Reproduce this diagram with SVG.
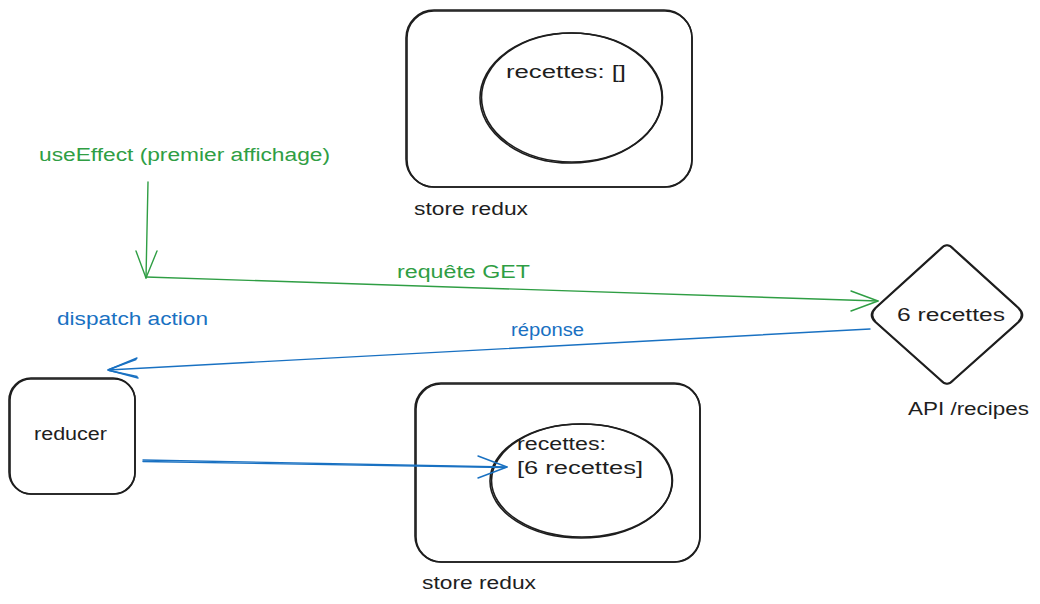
<svg xmlns="http://www.w3.org/2000/svg" width="1040" height="604" viewBox="0 0 1040 604">
<style>
.s{fill:none;stroke:#1e1e1e;stroke-width:1.6;stroke-linecap:round;stroke-linejoin:round}
.t{font-family:"Liberation Sans","DejaVu Sans",sans-serif;font-size:18px;fill:#1e1e1e}
.g{stroke:#2f9e44;fill:none;stroke-width:1.4;stroke-linecap:round;stroke-linejoin:round}
.b{stroke:#1971c2;fill:none;stroke-width:1.4;stroke-linecap:round;stroke-linejoin:round}
.tg{fill:#2f9e44}
.tb{fill:#1971c2}
</style>
<rect width="1040" height="604" fill="#ffffff"/>
<g id="store-top">
<rect class="s" x="406" y="10" width="286" height="177" rx="28"/>
<rect class="s" x="407" y="11" width="285" height="176" rx="27" stroke-width="0.8"/>
</g>
<g id="recettes-empty">
<ellipse class="s" cx="571" cy="98" rx="91" ry="65"/>
<ellipse class="s" cx="572" cy="97.5" rx="90.5" ry="64.5" stroke-width="0.8"/>
<text class="t" x="506" y="78" textLength="120" lengthAdjust="spacingAndGlyphs">recettes: []</text>
</g>
<text id="store-top-label" class="t" x="414" y="215" textLength="114" lengthAdjust="spacingAndGlyphs">store redux</text>
<text id="useeffect" class="t tg" x="39" y="161" textLength="291" lengthAdjust="spacingAndGlyphs">useEffect (premier affichage)</text>
<text id="dispatch" class="t tb" x="57" y="325" textLength="151" lengthAdjust="spacingAndGlyphs">dispatch action</text>
<g id="api">
<path class="s" d="M940 249 Q947 241 954 249 L1019 308 Q1026 315 1019 322 L954 380 Q947 388 940 380 L875 322 Q868 315 875 308 Z"/>
<path class="s" d="M941 249 Q947 242 953 249 L1018 308 Q1025 315 1018 322 L953 380 Q947 387 941 380 L876 322 Q869 315 876 308 Z" stroke-width="0.7"/>
<text class="t" x="897" y="321" textLength="108" lengthAdjust="spacingAndGlyphs">6 recettes</text>
<text class="t" x="908" y="415" textLength="121" lengthAdjust="spacingAndGlyphs">API /recipes</text>
</g>
<g id="reducer">
<rect class="s" x="9" y="378" width="126" height="116" rx="22"/>
<rect class="s" x="10" y="379" width="125" height="115" rx="21" stroke-width="0.8"/>
<text class="t" x="34" y="440" textLength="73" lengthAdjust="spacingAndGlyphs">reducer</text>
</g>
<g id="store-bottom">
<rect class="s" x="415" y="383" width="285" height="179" rx="26"/>
<rect class="s" x="416" y="384" width="284" height="178" rx="25" stroke-width="0.8"/>
</g>
<g id="recettes-six">
<ellipse class="s" cx="581" cy="481" rx="91" ry="57"/>
<ellipse class="s" cx="582" cy="480.5" rx="90.5" ry="56.5" stroke-width="0.8"/>
<text class="t" x="517" y="450" textLength="89" lengthAdjust="spacingAndGlyphs">recettes:</text>
<text class="t" x="517" y="474" textLength="126" lengthAdjust="spacingAndGlyphs">[6 recettes]</text>
</g>
<text id="store-bottom-label" class="t" x="422" y="589" textLength="114" lengthAdjust="spacingAndGlyphs">store redux</text>
<g id="connectors">
<path class="g" d="M148 182 L146 278"/>
<path class="g" d="M136 251 L146 278 L157 251"/>
<path class="g" d="M146 277 L878 301"/>
<path class="g" d="M851 291 L878 301 L851 311"/>
<text class="t tg" x="397" y="278" textLength="133" lengthAdjust="spacingAndGlyphs">requête GET</text>
<path class="b" d="M870 329 L108 370"/>
<path class="b" d="M108 370 L137 358 M108 370 L138 378"/>
<path class="b" d="M109 369.5 L136 359.5 M109 370.5 L137 376.5" stroke-width="0.8"/>
<text class="t tb" x="511" y="336" textLength="73" lengthAdjust="spacingAndGlyphs">réponse</text>
<path class="b" d="M143 460 L507 467"/>
<path class="b" d="M143 461.5 L505 467.5" stroke-width="0.7"/>
<path class="b" d="M478 456 L507 467 L478 478"/>
</g>
</svg>
